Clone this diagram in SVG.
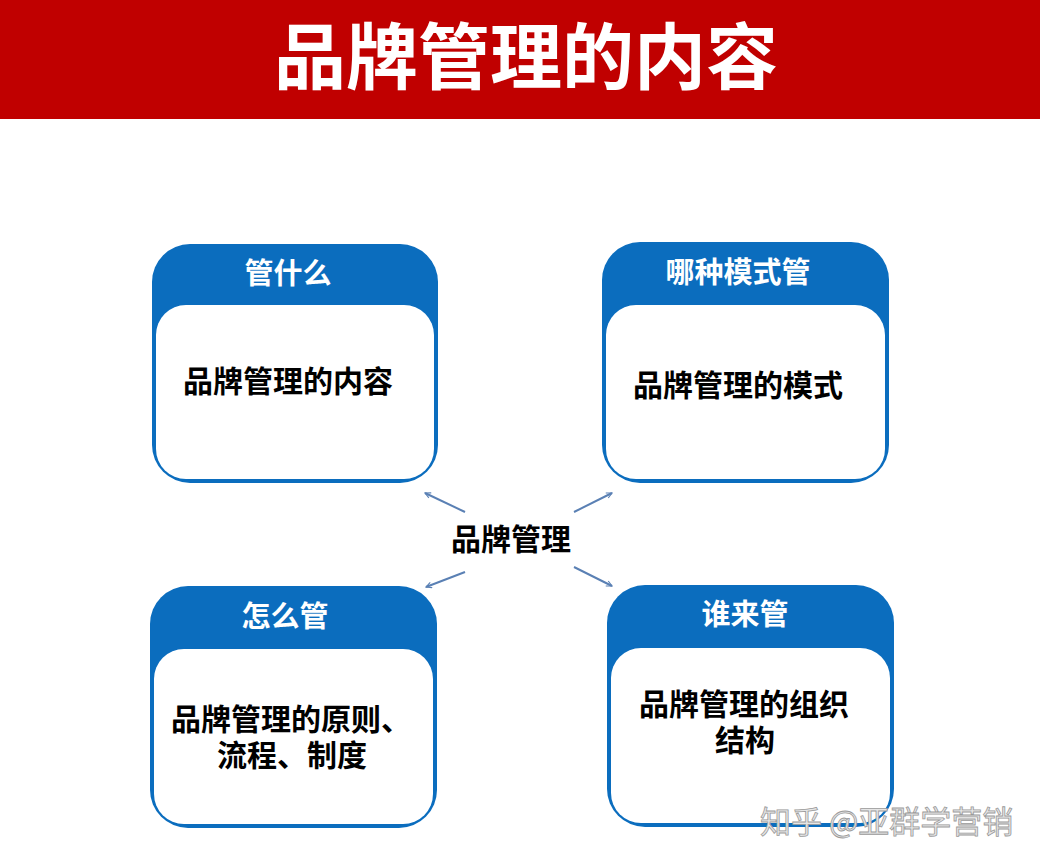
<svg xmlns="http://www.w3.org/2000/svg" width="1040" height="865" viewBox="0 0 1040 865">
<style>
.outer{fill:#0B6DBE;}
.inner{fill:#fff;}
.hd{font-family:"Noto Sans CJK SC","Noto Sans",sans-serif;font-weight:bold;font-size:29px;fill:#fff;text-anchor:middle;}
.bd{font-family:"Noto Sans CJK SC","Noto Sans",sans-serif;font-weight:bold;font-size:30px;fill:#000;text-anchor:middle;}
.conn line{stroke:#5A80B4;stroke-width:2;fill:none;marker-end:url(#ah);}
</style>
<defs>
<marker id="ah" viewBox="0 0 10 10" refX="9" refY="5" markerWidth="7" markerHeight="7" orient="auto" markerUnits="userSpaceOnUse">
<path d="M1,1 L9,5 L1,9" fill="none" stroke="#5A80B4" stroke-width="1.6"/>
</marker>
</defs>
<rect width="1040" height="865" fill="#fff"/>
<g id="header">
<rect x="0" y="0" width="1040" height="119" fill="#C00000"/>
<text x="526" y="83" font-family="Noto Sans CJK SC, Noto Sans, sans-serif" font-weight="bold" font-size="72" fill="#fff" text-anchor="middle">品牌管理的内容</text>
</g>
<g id="box-what">
<rect class="outer" x="152" y="244" width="286" height="239" rx="38"/>
<rect class="inner" x="156" y="305" width="278" height="174" rx="30"/>
<text class="hd" x="288" y="284">管什么</text>
<text class="bd" x="288" y="392">品牌管理的内容</text>
</g>
<g id="box-mode">
<rect class="outer" x="602" y="242" width="287" height="241" rx="38"/>
<rect class="inner" x="606" y="305" width="279" height="174" rx="30"/>
<text class="hd" x="738" y="283">哪种模式管</text>
<text class="bd" x="738" y="396">品牌管理的模式</text>
</g>
<g id="box-how">
<rect class="outer" x="150" y="586" width="287" height="242" rx="38"/>
<rect class="inner" x="154" y="649" width="279" height="175" rx="30"/>
<text class="hd" x="285" y="627">怎么管</text>
<text class="bd"><tspan x="291" y="730">品牌管理的原则、</tspan><tspan x="292" y="766">流程、制度</tspan></text>
</g>
<g id="box-who">
<rect class="outer" x="607" y="585" width="287" height="242" rx="38"/>
<rect class="inner" x="611" y="648" width="279" height="175" rx="30"/>
<text class="hd" x="745" y="625">谁来管</text>
<text class="bd"><tspan x="744" y="715">品牌管理的组织</tspan><tspan x="745" y="751">结构</tspan></text>
</g>
<g id="center">
<text class="bd" x="511" y="550">品牌管理</text>
</g>
<g class="conn" id="connectors">
<line x1="465" y1="512" x2="425" y2="493"/>
<line x1="574" y1="512" x2="612" y2="493"/>
<line x1="465" y1="572" x2="426" y2="587"/>
<line x1="574" y1="567" x2="612" y2="586"/>
</g>
<g id="watermark">
<text x="760" y="833" font-family="Noto Sans CJK SC, Noto Sans, sans-serif" font-size="31" fill="#e6e6e6" stroke="#9a9a9a" stroke-width="0.8">知乎 @亚群学营销</text>
</g>
</svg>
